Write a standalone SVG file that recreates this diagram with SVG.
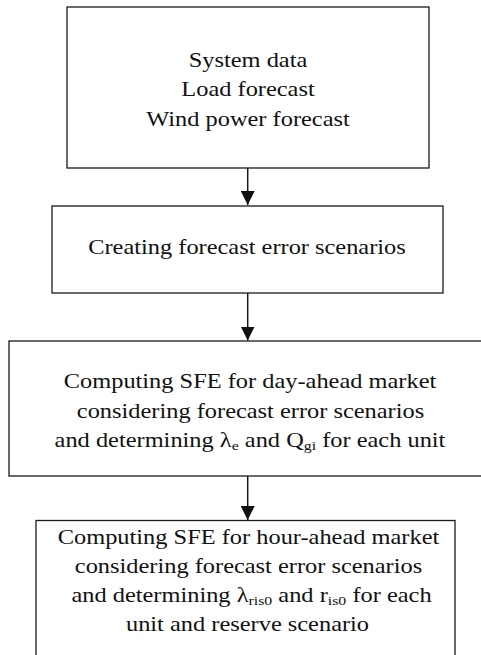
<svg xmlns="http://www.w3.org/2000/svg" width="481" height="655" viewBox="0 0 481 655">
<style>
.box{fill:#fff;stroke:#1a1a1a;stroke-width:1.3}
.sub{font-size:13px}
.conn{stroke:#1a1a1a;stroke-width:1.5;fill:none}
</style>
<defs>
<marker id="ah" markerWidth="14" markerHeight="14" refX="14" refY="7" orient="auto" markerUnits="userSpaceOnUse">
<path d="M0,0 L14,7 L0,14 Z" fill="#111"/>
</marker>
</defs>
<rect width="481" height="655" fill="#fff"/>
<g id="connectors">
<line class="conn" x1="247.7" y1="168" x2="247.7" y2="205" marker-end="url(#ah)"/>
<line class="conn" x1="247.7" y1="293" x2="247.7" y2="340.5" marker-end="url(#ah)"/>
<line class="conn" x1="247.7" y1="476" x2="247.7" y2="520" marker-end="url(#ah)"/>
</g>
<g id="node1">
<rect class="box" x="67" y="7" width="362" height="161"/>
<g font-family="Liberation Serif" font-size="20" fill="#111" text-anchor="middle">
<text transform="translate(248,66.5) scale(1.22,1)">System data</text>
<text transform="translate(248,96) scale(1.22,1)">Load forecast</text>
<text transform="translate(248,125.5) scale(1.22,1)">Wind power forecast</text>
</g>
</g>
<g id="node2">
<rect class="box" x="52" y="206" width="391" height="87"/>
<g font-family="Liberation Serif" font-size="20" fill="#111" text-anchor="middle">
<text transform="translate(247,254) scale(1.22,1)">Creating forecast error scenarios</text>
</g>
</g>
<g id="node3">
<rect class="box" x="9" y="341" width="500" height="135"/>
<g font-family="Liberation Serif" font-size="20" fill="#111" text-anchor="middle">
<text transform="translate(250,388) scale(1.22,1)">Computing SFE for day-ahead market</text>
<text transform="translate(250.5,417.5) scale(1.22,1)">considering forecast error scenarios</text>
<text transform="translate(250,447) scale(1.22,1)">and determining λ<tspan class="sub" dy="3">e</tspan><tspan dy="-3"> and Q</tspan><tspan class="sub" dy="3">gi</tspan><tspan dy="-3"> for each unit</tspan></text>
</g>
</g>
<g id="node4">
<rect class="box" x="36" y="520.5" width="419" height="160"/>
<g font-family="Liberation Serif" font-size="20" fill="#111" text-anchor="middle">
<text transform="translate(248.5,544) scale(1.22,1)">Computing SFE for hour-ahead market</text>
<text transform="translate(248.5,573) scale(1.22,1)">considering forecast error scenarios</text>
<text transform="translate(251.5,602) scale(1.22,1)">and determining λ<tspan class="sub" dy="3">ris0</tspan><tspan dy="-3"> and r</tspan><tspan class="sub" dy="3">is0</tspan><tspan dy="-3"> for each</tspan></text>
<text transform="translate(247.5,631) scale(1.22,1)">unit and reserve scenario</text>
</g>
</g>
</svg>
